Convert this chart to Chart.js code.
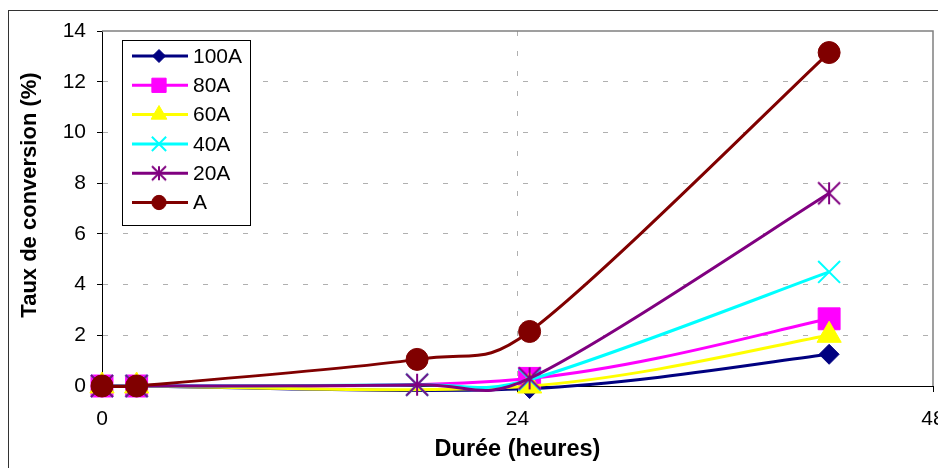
<!DOCTYPE html>
<html>
<head>
<meta charset="utf-8">
<script src="https://cdn.jsdelivr.net/npm/chart.js@4.4.0/dist/chart.umd.min.js"></script>
<style>
  html, body { margin: 0; padding: 0; background: #fff; overflow: hidden; }
  #wrap { position: relative; width: 938px; height: 468px; overflow: hidden; }
  #frame { position: absolute; left: 8px; top: 10px; width: 980px; height: 520px; border: 1px solid #333; box-sizing: border-box; }
  canvas { position: absolute; left: 0; top: 0; }
</style>
</head>
<body>
<div id="wrap">
  <div id="frame"></div>
  <canvas id="chart" width="960" height="468"></canvas>
</div>
<script>
// Durée (heures) des prélèvements
const hours = [0, 2, 18.2, 24.7, 42];
// Taux de conversion (%) pour chaque série (null = pas de mesure)
const conv100A = [0, 0, null, -0.1, 1.25];
const conv80A = [0, 0, null, 0.3, 2.65];
const conv60A = [0, 0, null, 0.0, 2.0];
const conv40A = [0, 0, 0.05, 0.25, 4.5];
const conv20A = [0, 0, 0.05, 0.3, 7.6];
const convA = [0, 0, 1.05, 2.15, 13.15];
const seriesNames = ['100A', '80A', '60A', '40A', '20A', 'A'];
const xTickValues = [0, 24, 48];
const yTickValues = [0, 2, 4, 6, 8, 10, 12, 14];

const FONT = "'Liberation Sans', Arial, sans-serif";

function asteriskImage(size, color, lw) {
    const c = document.createElement('canvas');
    c.width = size + 4;
    c.height = size + 4;
    const g = c.getContext('2d');
    const m = c.width / 2, r = size / 2;
    g.strokeStyle = color;
    g.lineWidth = lw;
    g.beginPath();
    g.moveTo(m, m - r); g.lineTo(m, m + r);
    g.moveTo(m - r, m - r); g.lineTo(m + r, m + r);
    g.moveTo(m + r, m - r); g.lineTo(m - r, m + r);
    g.stroke();
    return c;
}

const styles = [
    { color: '#000080', pointStyle: 'rectRot', radius: 10, bw: 1 },
    { color: '#FF00FF', pointStyle: 'rect', radius: 15.5, bw: 1 },
    { color: '#FFFF00', pointStyle: 'triangle', radius: 14, bw: 1 },
    { color: '#00FFFF', pointStyle: 'crossRot', radius: 15.5, bw: 2 },
    { color: '#800080', pointStyle: asteriskImage(22, '#800080', 2), legendStyle: asteriskImage(14, '#800080', 2), radius: 11, bw: 2 },
    { color: '#800000', pointStyle: 'circle', radius: 11, bw: 1 }
];

function toPoints(values) {
    const pts = [];
    values.forEach((v, i) => {
        if (v !== null) pts.push({ x: hours[i], y: v });
    });
    return pts;
}

const allSeries = [conv100A, conv80A, conv60A, conv40A, conv20A, convA];

const datasets = allSeries.map((values, i) => ({
    label: seriesNames[i],
    data: toPoints(values),
    borderColor: styles[i].color,
    backgroundColor: styles[i].color,
    borderWidth: 3,
    tension: 0.4,
    pointStyle: styles[i].pointStyle,
    pointRadius: styles[i].radius,
    pointBorderWidth: styles[i].bw,
    pointBorderColor: styles[i].color,
    pointBackgroundColor: styles[i].color,
    clip: false,
    order: allSeries.length - 1 - i
}));

// lissage "façon Excel" : tangente = (suivant - précédent) / 6, limitée à la moitié du segment voisin
const excelSmoothing = {
    id: 'excelSmoothing',
    beforeDatasetDraw(chart, args) {
        const meta = args.meta;
        const pts = meta.data;
        const n = pts.length;
        const dist = (a, b) => Math.hypot(b.x - a.x, b.y - a.y);
        for (let i = 0; i < n; i++) {
            const p = pts[i];
            const prev = pts[Math.max(i - 1, 0)];
            const next = pts[Math.min(i + 1, n - 1)];
            const dx = (next.x - prev.x) / 6, dy = (next.y - prev.y) / 6;
            const len = Math.hypot(dx, dy) || 1;
            const kPrev = i > 0 ? Math.min(1, 0.5 * dist(prev, p) / len) : 0;
            const kNext = i < n - 1 ? Math.min(1, 0.5 * dist(p, next) / len) : 0;
            p.cp1x = p.x - dx * kPrev; p.cp1y = p.y - dy * kPrev;
            p.cp2x = p.x + dx * kNext; p.cp2y = p.y + dy * kNext;
        }
        meta.dataset._pointsUpdated = true;
    }
};

const plotFrame = {
    id: 'plotFrame',
    beforeDatasetsDraw(chart) {
        const { ctx, chartArea: a } = chart;
        ctx.save();
        ctx.strokeStyle = '#808080';
        ctx.lineWidth = 1.5;
        ctx.beginPath();
        ctx.moveTo(a.left, a.top);
        ctx.lineTo(a.right, a.top);
        ctx.lineTo(a.right, a.bottom);
        ctx.stroke();
        ctx.restore();
    }
};

const legendBox = {
    id: 'legendBox',
    afterDatasetsDraw(chart) {
        const ctx = chart.ctx;
        ctx.save();
        ctx.fillStyle = '#fff';
        ctx.fillRect(122.5, 40.5, 128, 185);
        ctx.strokeStyle = '#000';
        ctx.lineWidth = 1;
        ctx.strokeRect(122.5, 40.5, 128, 185);
        seriesNames.forEach((name, i) => {
            const st = styles[i];
            const y = 56 + i * 29.3;
            ctx.strokeStyle = st.color;
            ctx.lineWidth = 3;
            ctx.beginPath();
            ctx.moveTo(132, y);
            ctx.lineTo(188, y);
            ctx.stroke();
            if (typeof st.pointStyle === 'string') {
                ctx.fillStyle = st.color;
                ctx.strokeStyle = st.color;
                ctx.lineWidth = st.bw;
                Chart.helpers.drawPoint(ctx, { pointStyle: st.pointStyle, radius: st.radius * 0.65, borderWidth: st.bw, rotation: 0 }, 159, y);
            } else {
                const img = st.legendStyle;
                ctx.drawImage(img, 159 - img.width / 2, y - img.height / 2);
            }
            ctx.fillStyle = '#000';
            ctx.font = '21px ' + FONT;
            ctx.textBaseline = 'middle';
            ctx.textAlign = 'left';
            ctx.fillText(name, 193, y + 1);
        });
        // titre de l'axe Y
        ctx.translate(36, 195);
        ctx.rotate(-Math.PI / 2);
        ctx.font = 'bold 22px ' + FONT;
        ctx.textAlign = 'center';
        ctx.textBaseline = 'alphabetic';
        ctx.fillText('Taux de conversion (%)', 0, 0);
        ctx.restore();
    }
};

new Chart(document.getElementById('chart'), {
    type: 'line',
    data: { datasets: datasets },
    options: {
        responsive: false,
        animation: false,
        layout: { padding: { left: 0, top: 31, right: 27, bottom: 0 } },
        plugins: {
            legend: { display: false },
            tooltip: { enabled: false }
        },
        elements: {
            line: { capBezierPoints: false }
        },
        scales: {
            x: {
                type: 'linear',
                min: 0,
                max: 48,
                afterBuildTicks: (scale) => { scale.ticks = xTickValues.map(v => ({ value: v })); },
                afterFit: (scale) => { scale.height = 82; },
                grid: {
                    color: (c) => (c.tick && c.tick.value === 24) ? '#b0b0b0' : 'rgba(0,0,0,0)',
                    lineWidth: 1,
                    tickLength: 6,
                    tickColor: '#000'
                },
                border: { display: true, color: '#000', width: 1, dash: [5, 15] },
                ticks: {
                    color: '#000',
                    font: { family: FONT, size: 21 },
                    padding: 15,
                    maxRotation: 0
                },
                title: {
                    display: true,
                    text: 'Durée (heures)',
                    color: '#000',
                    font: { family: FONT, size: 23.5, weight: 'bold' },
                    padding: { top: 0, bottom: 4 }
                }
            },
            y: {
                min: 0,
                max: 14,
                afterBuildTicks: (scale) => { scale.ticks = yTickValues.map(v => ({ value: v })); },
                afterFit: (scale) => { scale.width = 102; },
                grid: {
                    color: (c) => (c.tick && c.tick.value > 0 && c.tick.value < 14) ? '#b0b0b0' : 'rgba(0,0,0,0)',
                    lineWidth: 1,
                    tickLength: 5,
                    tickColor: '#000'
                },
                border: { display: true, color: '#000', width: 1, dash: [5, 15] },
                ticks: {
                    color: '#000',
                    font: { family: FONT, size: 21 },
                    padding: 11
                }
            }
        }
    },
    plugins: [excelSmoothing, plotFrame, legendBox]
});
</script>
</body>
</html>
